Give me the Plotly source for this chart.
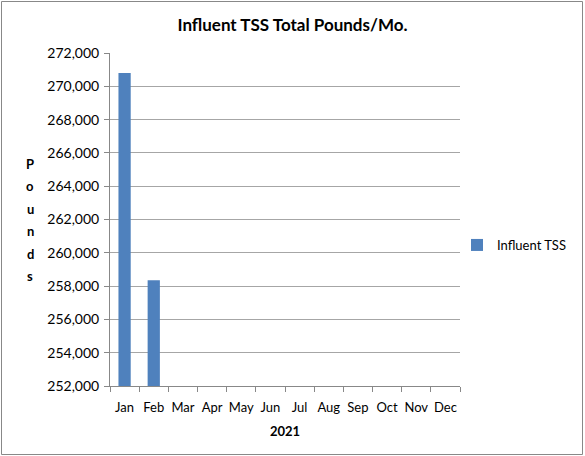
import plotly.graph_objects as go

months = ["Jan", "Feb", "Mar", "Apr", "May", "Jun", "Jul", "Aug", "Sep", "Oct", "Nov", "Dec"]
influent_tss = [270800, 258350, None, None, None, None, None, None, None, None, None, None]
y_ticks = list(range(252000, 272001, 2000))
y_title = "Pounds"

W, H = 585, 456
L, R, T, B = 110, 0, 53, 70
PLOT_RIGHT = 460
pw, ph = W - L - R, H - T - B

def px_x(p):
    return (p - L) / pw

def px_y(p):
    return 1 - (p - T) / ph

fig = go.Figure()
fig.add_trace(go.Bar(
    x=months, y=influent_tss, name="Influent TSS",
    marker=dict(color="#4F81BD", line=dict(color="#4F81BD", width=0)),
    width=0.42,
))

fig.update_layout(
    width=W, height=H,
    margin=dict(l=L, r=R, t=T, b=B),
    paper_bgcolor="white", plot_bgcolor="white",
    font=dict(family="Lato, Open Sans, sans-serif", size=13, color="#000"),
    title=dict(text="<b>Influent TSS Total Pounds/Mo.</b>", x=0.5, xanchor="center",
               y=1 - 25 / H, yanchor="middle", font=dict(size=17)),
    showlegend=True,
    legend=dict(x=px_x(457), y=px_y(245), xanchor="left", yanchor="middle",
                font=dict(size=13), bgcolor="rgba(0,0,0,0)", itemwidth=30),
)
fig.update_xaxes(
    domain=[0, px_x(PLOT_RIGHT)],
    categoryorder="array", categoryarray=months,
    tickson="boundaries", ticks="outside", ticklen=5, tickcolor="#888",
    showline=True, linecolor="#888", linewidth=1, tickangle=0,
    showgrid=False, tickfont=dict(size=13), ticklabelstandoff=9,
    title=dict(text="<b>2021</b>", font=dict(size=13), standoff=13),
)
fig.update_yaxes(
    range=[252000, 272000], tickvals=y_ticks, tickformat=",",
    ticks="outside", ticklen=5, tickcolor="#888",
    showline=True, linecolor="#888", linewidth=1,
    showgrid=True, gridcolor="#a6a6a6", gridwidth=1,
    tickfont=dict(size=14), ticklabelstandoff=2,
)
for i, ch in enumerate(y_title):
    fig.add_annotation(
        text="<b>%s</b>" % ch, xref="paper", yref="paper",
        x=px_x(30), y=px_y(164 + 22.4 * i), xanchor="center", yanchor="middle",
        showarrow=False, font=dict(size=13),
    )
fig.add_shape(
    type="rect", xref="paper", yref="paper",
    x0=px_x(1.5), x1=px_x(582.5), y0=px_y(1.5), y1=px_y(454.5),
    line=dict(color="#888", width=1), fillcolor="rgba(0,0,0,0)", layer="below",
)
fig.write_html("out.html", config={"displayModeBar": False},
               post_script="document.body.style.margin='0px';document.body.style.overflow='hidden';")
